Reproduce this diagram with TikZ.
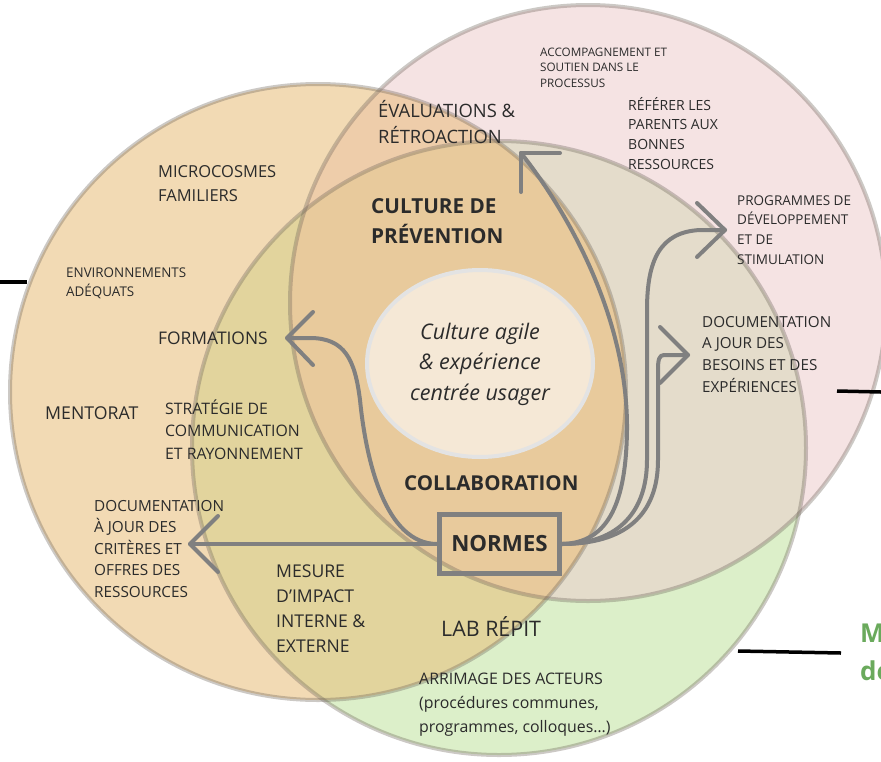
\documentclass[tikz,border=0pt]{standalone}
\usepackage{fontspec}
\setmainfont{Open Sans}
\usetikzlibrary{shapes.geometric}
\newcommand{\mlines}[1]{\begin{tabular}[t]{@{}l@{}}#1\end{tabular}}
\newcommand{\clines}[1]{\begin{tabular}[t]{@{}c@{}}#1\end{tabular}}
\definecolor{cO}{HTML}{F2DAB4}
\definecolor{cP}{HTML}{F5E3E3}
\definecolor{cG}{HTML}{DCEFC9}
\definecolor{cOP}{HTML}{EECDAA}
\definecolor{cOG}{HTML}{E2D49D}
\definecolor{cPG}{HTML}{E4DCCB}
\definecolor{cOPG}{HTML}{E8CA9C}
\definecolor{ringc}{HTML}{6E645A}
\definecolor{arr}{HTML}{808080}
\definecolor{txt}{HTML}{2B2B2B}
\definecolor{ellf}{HTML}{F5E8D6}
\definecolor{elld}{HTML}{E3E3E3}
\definecolor{grn}{HTML}{6AAA5C}
\begin{document}
\begin{tikzpicture}[x=1pt,y=-1pt,
  lbl/.style={anchor=base west, inner sep=0pt, text=txt},
  fs/.style 2 args={font=\fontsize{#1}{#2}\selectfont},
  arrowline/.style={draw=arr, line width=4pt, line cap=round, line join=round},
  ring/.style={draw=ringc, draw opacity=0.35, line width=4pt},
  blk/.style={draw=black, line width=3.5pt}]
\useasboundingbox (0,0) rectangle (881,761);
\clip (0,0) rectangle (881,761);
\coordinate (O) at (318,392);
\coordinate (P) at (588,303);
\coordinate (G) at (499,448);
% fills
\fill[cO] (O) circle (308pt);
\fill[cP] (P) circle (298pt);
\fill[cG] (G) circle (307pt);
\begin{scope}
  \clip (P) circle (298pt);
  \fill[cPG] (G) circle (307pt);
\end{scope}
\begin{scope}
  \clip (O) circle (308pt);
  \fill[cOP] (P) circle (298pt);
  \fill[cOG] (G) circle (307pt);
  \clip (P) circle (298pt);
  \fill[cOPG] (G) circle (307pt);
\end{scope}
% rings
\draw[ring] (O) circle (308pt);
\draw[ring] (P) circle (298pt);
\draw[ring] (G) circle (307pt);
% black stubs
\coordinate (bl1) at (0,282);
\coordinate (bl2) at (27,282);
\coordinate (br1) at (837,391);
\coordinate (br2) at (881,392);
\coordinate (bb1) at (738,651);
\coordinate (bb2) at (841,653);
\draw[blk] (bl1) -- (bl2);
\draw[blk] (br1) -- (br2);
\draw[blk] (bb1) -- (bb2);
% inner ellipse
\node[draw=elld, fill=ellf, line width=4pt, ellipse, minimum width=226pt, minimum height=187pt, inner sep=0pt] (core) at (480,363.5) {};
\node[anchor=base, inner sep=0pt, text=txt, font=\fontsize{21.5}{30.5}\selectfont\itshape] (agile) at (480,339) {\clines{Culture agile\\\& expérience\\centrée usager}};
% labels
\node[lbl, fs={11.7}{15.5}] (acc) at (540,56) {\mlines{ACCOMPAGNEMENT ET\\SOUTIEN DANS LE\\PROCESSUS}};
\node[lbl, fs={14}{19.7}] (ref) at (628,110) {\mlines{RÉFÉRER LES\\PARENTS AUX\\BONNES\\RESSOURCES}};
\node[lbl, fs={18.4}{26}] (eval) at (378,117) {\mlines{ÉVALUATIONS \&\\RÉTROACTION}};
\node[lbl, fs={16.5}{24}] (micro) at (158,177) {\mlines{MICROCOSMES\\FAMILIERS}};
\node[lbl, fs={13.4}{19}] (env) at (66,277) {\mlines{ENVIRONNEMENTS\\ADÉQUATS}};
\node[lbl, fs={17.4}{20}] (form) at (158,344) {FORMATIONS};
\node[lbl, fs={17.7}{20}] (ment) at (45,419) {MENTORAT};
\node[lbl, fs={15.8}{22.5}] (strat) at (165,414) {\mlines{STRATÉGIE DE\\COMMUNICATION\\ET RAYONNEMENT}};
\node[lbl, fs={15.3}{21.5}] (docl) at (94,511) {\mlines{DOCUMENTATION\\À JOUR DES\\CRITÈRES ET\\OFFRES DES\\RESSOURCES}};
\node[lbl, fs={17.6}{25.3}] (mes) at (276,577) {\mlines{MESURE\\D'IMPACT\\INTERNE \&\\EXTERNE}};
\node[lbl, fs={21.4}{24}] (lab) at (441,636) {LAB RÉPIT};
\node[lbl, fs={15.9}{24}] (arrim) at (419,684) {\mlines{ARRIMAGE DES ACTEURS\\(procédures communes,\\programmes, colloques…)}};
\node[lbl, font=\fontsize{20.7}{30}\selectfont\bfseries] (cult) at (371,213) {\mlines{CULTURE DE\\PRÉVENTION}};
\node[lbl, font=\fontsize{20.5}{24}\selectfont\bfseries] (collab) at (404,490) {COLLABORATION};
\node[lbl, fs={13.5}{19.7}] (prog) at (737,205) {\mlines{PROGRAMMES DE\\DÉVELOPPEMENT\\ET DE\\STIMULATION}};
\node[lbl, fs={15.2}{21.7}] (docr) at (702,327) {\mlines{DOCUMENTATION\\A JOUR DES\\BESOINS ET DES\\EXPÉRIENCES}};
\node[lbl, text=grn, font=\fontsize{26}{30}\selectfont\bfseries] (gm) at (860,642) {M};
\node[lbl, text=grn, font=\fontsize{26}{30}\selectfont\bfseries] (gd) at (860,680) {de};
% NORMES box
\node[draw=arr, line width=4.5pt, minimum width=120pt, minimum height=59pt, inner sep=0pt, text=txt, font=\fontsize{22.3}{24}\selectfont\bfseries] (normes) at (499.5,544) {NORMES};
% arrow tips
\coordinate (tipL) at (190,544);
\coordinate (tipF) at (287,338);
\coordinate (tipE) at (521,153);
\coordinate (tipP) at (725,230);
\coordinate (tipD) at (688,355);
% connectors
\draw[arrowline] (normes.west) -- (tipL);
\draw[arrowline] (tipL) ++(28,-28) -- (tipL) -- ++(28,28);
\draw[arrowline] (normes.west) .. controls (385,544) and (366,460) .. (360,400) .. controls (355,360) and (345,338) .. (310,338) -- (tipF);
\draw[arrowline] (tipF) ++(26,-26) -- (tipF) -- ++(26,27);
\draw[arrowline] (normes.east) .. controls (610,543) and (626,500) .. (627,430) .. controls (628,320) and (570,215) .. (tipE);
\draw[arrowline] (tipE) ++(39,0) -- (tipE) -- ++(0,39);
\draw[arrowline] (normes.east) .. controls (620,544) and (647,510) .. (647,460) -- (647,310) .. controls (647,260) and (660,232) .. (700,230) -- (tipP);
\draw[arrowline] (tipP) ++(-28,-27) -- (tipP) -- ++(-28,27);
\draw[arrowline] (normes.east) .. controls (625,544) and (658,515) .. (658,460) -- (658,370) .. controls (658,360) and (659,355) .. (664,355) -- (tipD);
\draw[arrowline] (tipD) ++(-28,-28) -- (tipD) -- ++(-28,28);
\end{tikzpicture}
\end{document}
